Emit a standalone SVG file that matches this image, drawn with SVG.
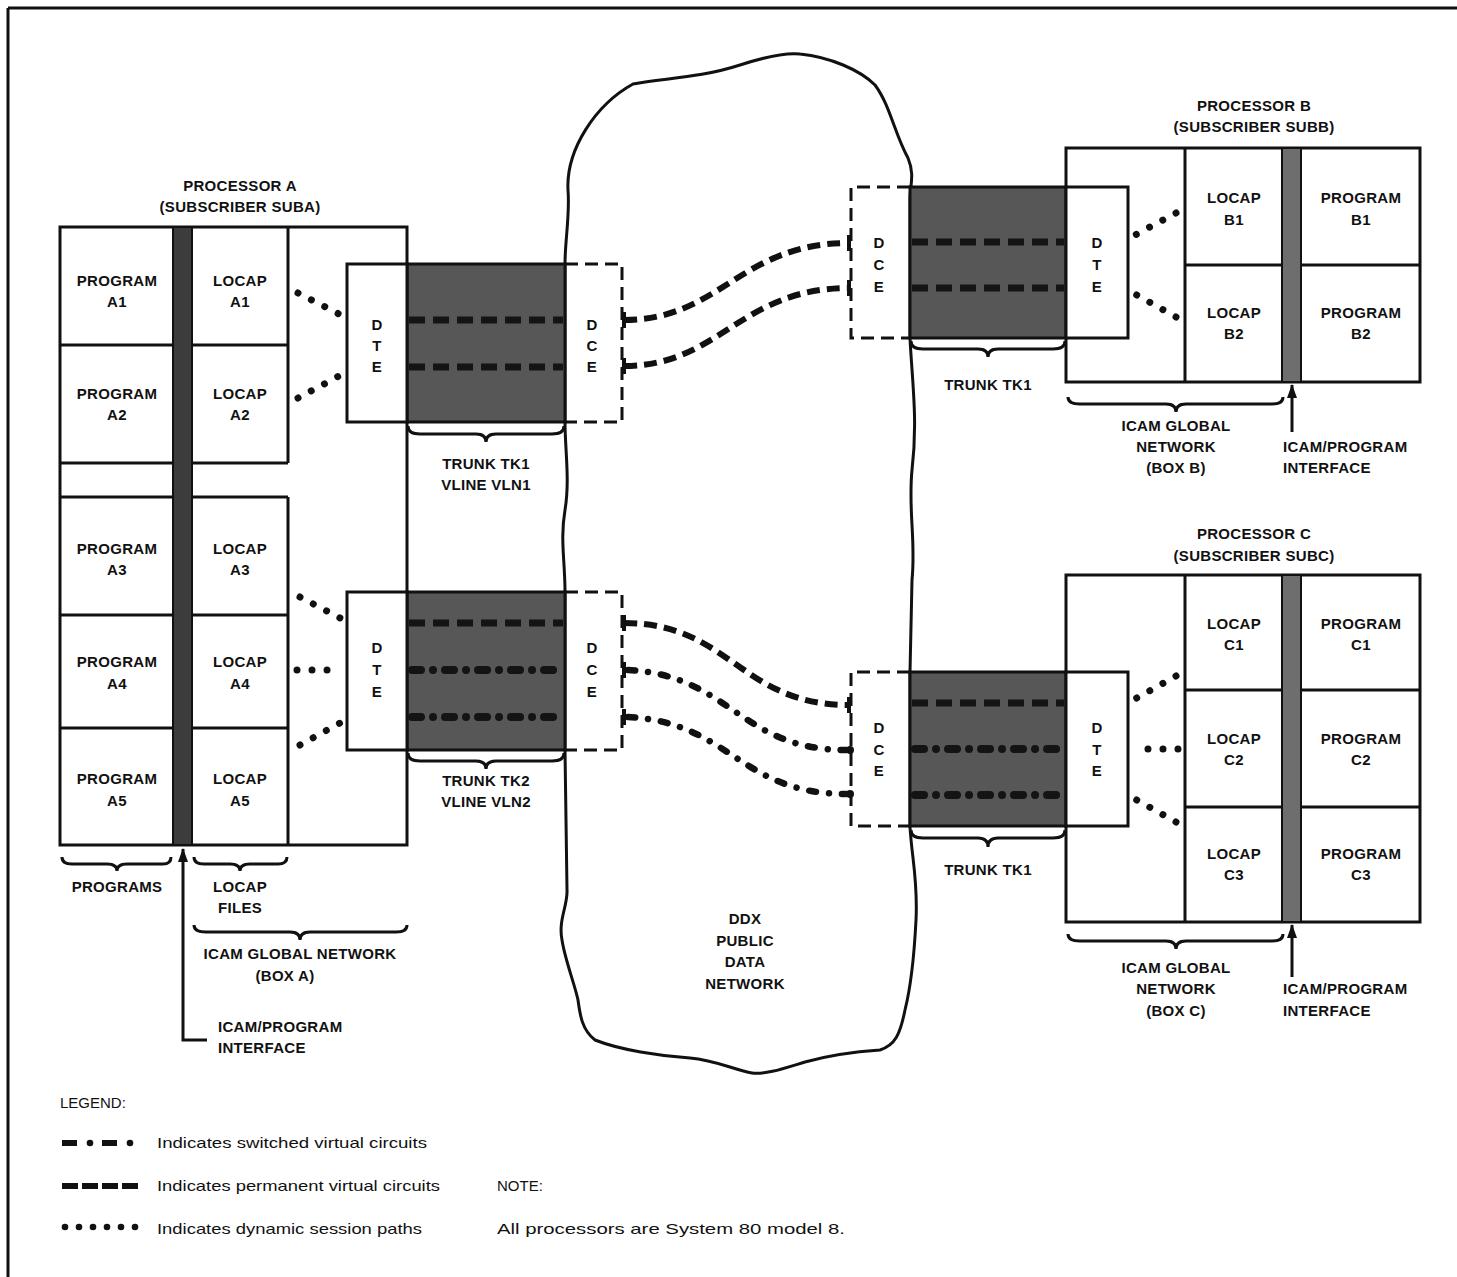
<svg xmlns="http://www.w3.org/2000/svg" width="1457" height="1277" viewBox="0 0 1457 1277">
<style>
.t{font-family:"Liberation Sans",Arial,sans-serif;font-size:15px;font-weight:bold;text-anchor:middle;fill:#111;letter-spacing:0.3px}
.st{text-anchor:start}
.l{font-family:"Liberation Sans",Arial,sans-serif;font-size:15px;fill:#111}
.box{fill:#fff;stroke:#111;stroke-width:3}
.ln{stroke:#111;stroke-width:3;fill:none}
.dce{fill:none;stroke:#111;stroke-width:3;stroke-dasharray:13 7}
.trunk{fill:#575757;stroke:#111;stroke-width:3}
.barA{fill:#3c3c3c;stroke:#111;stroke-width:2}
.barB{fill:#6e6e6e;stroke:#111;stroke-width:2}
.brace{fill:none;stroke:#111;stroke-width:3}
.pvc{fill:none;stroke:#111;stroke-width:6;stroke-dasharray:13 7}
.svc{fill:none;stroke:#111;stroke-width:6.5;stroke-linecap:round;stroke-dasharray:7 13 0.01 13}
.dsp{fill:none;stroke:#111;stroke-width:7;stroke-linecap:round;stroke-dasharray:0.01 15}
.tp{fill:none;stroke:#141414;stroke-width:7;stroke-dasharray:16 8}
.ts{fill:none;stroke:#141414;stroke-width:8;stroke-linecap:round;stroke-dasharray:9 12 0.01 12}
.tick{stroke:#111;stroke-width:4}
</style>
<defs>
<marker id="ah" viewBox="0 0 14 10" refX="13" refY="5" markerWidth="14" markerHeight="10" markerUnits="userSpaceOnUse" orient="auto">
<path d="M0 0 L14 5 L0 10 Z" fill="#111"/>
</marker>
</defs>

<g id="frame">
<line x1="8" y1="8" x2="1457" y2="8" class="ln" stroke-width="2"/>
<line x1="8" y1="8" x2="8" y2="1277" class="ln" stroke-width="2"/>
</g>

<g id="ddx-network">
<path class="ln" d="M568 190 C566 150,595 105,633 84 C665 78,700 78,740 65 C765 57,785 52,800 54 C830 57,860 70,875 85 C890 105,895 135,908 158 C915 175,910 185,910 200 L910 338 C912 380,918 420,912 470 C908 510,916 540,912 580 L910 672 L910 827 C912 860,918 880,916 920 C914 960,910 990,905 1010 C900 1035,895 1045,880 1050 C850 1052,830 1055,805 1062 C785 1068,765 1075,752 1073 C735 1070,715 1060,690 1058 C660 1056,620 1050,595 1040 C582 1030,580 1015,578 1000 C575 985,565 960,562 940 C558 920,568 905,567 890 L565 750 L565 592 C565 560,560 540,565 510 C570 480,565 450,565 422 L565 264 C565 240,570 215,568 190 Z"/>
<text class="t" x="745" y="924">DDX</text>
<text class="t" x="745" y="946">PUBLIC</text>
<text class="t" x="745" y="967">DATA</text>
<text class="t" x="745" y="989">NETWORK</text>
</g>

<g id="processor-a">
<text class="t" x="240" y="191">PROCESSOR A</text>
<text class="t" x="240" y="212">(SUBSCRIBER SUBA)</text>
<rect class="box" x="60" y="227" width="347" height="618"/>
<line class="ln" x1="60" y1="345" x2="288" y2="345"/>
<line class="ln" x1="60" y1="463" x2="288" y2="463"/>
<line class="ln" x1="60" y1="497" x2="288" y2="497"/>
<line class="ln" x1="60" y1="615" x2="288" y2="615"/>
<line class="ln" x1="60" y1="728" x2="288" y2="728"/>
<line class="ln" x1="288" y1="227" x2="288" y2="463"/>
<line class="ln" x1="288" y1="497" x2="288" y2="845"/>
<rect class="barA" x="173" y="227" width="19" height="618"/>
<text class="t" x="117" y="286">PROGRAM</text><text class="t" x="117" y="307">A1</text>
<text class="t" x="117" y="399">PROGRAM</text><text class="t" x="117" y="420">A2</text>
<text class="t" x="117" y="554">PROGRAM</text><text class="t" x="117" y="575">A3</text>
<text class="t" x="117" y="667">PROGRAM</text><text class="t" x="117" y="689">A4</text>
<text class="t" x="117" y="784">PROGRAM</text><text class="t" x="117" y="806">A5</text>
<text class="t" x="240" y="286">LOCAP</text><text class="t" x="240" y="307">A1</text>
<text class="t" x="240" y="399">LOCAP</text><text class="t" x="240" y="420">A2</text>
<text class="t" x="240" y="554">LOCAP</text><text class="t" x="240" y="575">A3</text>
<text class="t" x="240" y="667">LOCAP</text><text class="t" x="240" y="689">A4</text>
<text class="t" x="240" y="784">LOCAP</text><text class="t" x="240" y="806">A5</text>
<path class="brace" d="M62 857 Q62 864 72 864 L107 864 Q117 864 117 871 Q117 864 127 864 L163 864 Q171 864 171 857"/>
<path class="brace" d="M194 857 Q194 864 204 864 L230 864 Q240 864 240 871 Q240 864 250 864 L278 864 Q287 864 287 857"/>
<text class="t" x="117" y="892">PROGRAMS</text>
<text class="t" x="240" y="892">LOCAP</text>
<text class="t" x="240" y="913">FILES</text>
<path class="brace" d="M194 925 Q194 932 206 932 L290 932 Q300 932 300 940 Q300 932 310 932 L396 932 Q407 932 407 925"/>
<text class="t" x="300" y="959">ICAM GLOBAL NETWORK</text>
<text class="t" x="285" y="981">(BOX A)</text>
<path class="ln" d="M207 1040 L183 1040 L183 849" marker-end="url(#ah)"/>
<text class="t st" x="218" y="1032">ICAM/PROGRAM</text>
<text class="t st" x="218" y="1053">INTERFACE</text>
</g>

<g id="trunk-a1">
<rect class="trunk" x="407" y="264" width="158" height="158"/>
<rect class="box" x="347" y="264" width="60" height="158"/>
<path class="dce" d="M565 264 L622 264 L622 422 L565 422"/>
<text class="t" x="377" y="330">D</text><text class="t" x="377" y="351">T</text><text class="t" x="377" y="372">E</text>
<text class="t" x="592" y="330">D</text><text class="t" x="592" y="351">C</text><text class="t" x="592" y="372">E</text>
<path class="brace" d="M408 426 Q408 434 420 434 L476 434 Q486 434 486 442 Q486 434 496 434 L552 434 Q564 434 564 426"/>
<text class="t" x="486" y="469">TRUNK TK1</text>
<text class="t" x="486" y="490">VLINE VLN1</text>
</g>

<g id="trunk-a2">
<rect class="trunk" x="407" y="592" width="158" height="158"/>
<rect class="box" x="347" y="592" width="60" height="158"/>
<path class="dce" d="M565 592 L622 592 L622 750 L565 750"/>
<text class="t" x="377" y="653">D</text><text class="t" x="377" y="675">T</text><text class="t" x="377" y="697">E</text>
<text class="t" x="592" y="653">D</text><text class="t" x="592" y="675">C</text><text class="t" x="592" y="697">E</text>
<path class="brace" d="M408 753 Q408 761 420 761 L476 761 Q486 761 486 769 Q486 761 496 761 L552 761 Q564 761 564 753"/>
<text class="t" x="486" y="786">TRUNK TK2</text>
<text class="t" x="486" y="807">VLINE VLN2</text>
</g>

<g id="processor-b">
<text class="t" x="1254" y="111">PROCESSOR B</text>
<text class="t" x="1254" y="132">(SUBSCRIBER SUBB)</text>
<rect class="box" x="1066" y="148" width="354" height="234"/>
<line class="ln" x1="1185" y1="148" x2="1185" y2="382"/>
<line class="ln" x1="1185" y1="265" x2="1420" y2="265"/>
<rect class="barB" x="1282" y="148" width="19" height="234"/>
<text class="t" x="1234" y="203">LOCAP</text><text class="t" x="1234" y="225">B1</text>
<text class="t" x="1234" y="318">LOCAP</text><text class="t" x="1234" y="339">B2</text>
<text class="t" x="1361" y="203">PROGRAM</text><text class="t" x="1361" y="225">B1</text>
<text class="t" x="1361" y="318">PROGRAM</text><text class="t" x="1361" y="339">B2</text>
<path class="brace" d="M1068 397 Q1068 404 1080 404 L1166 404 Q1176 404 1176 412 Q1176 404 1186 404 L1272 404 Q1283 404 1283 397"/>
<text class="t" x="1176" y="431">ICAM GLOBAL</text>
<text class="t" x="1176" y="452">NETWORK</text>
<text class="t" x="1176" y="473">(BOX B)</text>
<line class="ln" x1="1292" y1="432" x2="1292" y2="385" marker-end="url(#ah)"/>
<text class="t st" x="1283" y="452">ICAM/PROGRAM</text>
<text class="t st" x="1283" y="473">INTERFACE</text>
</g>

<g id="trunk-b">
<rect class="trunk" x="910" y="187" width="156" height="151"/>
<rect class="box" x="1066" y="187" width="62" height="151"/>
<path class="dce" d="M910 187 L851 187 L851 338 L910 338"/>
<text class="t" x="879" y="248">D</text><text class="t" x="879" y="270">C</text><text class="t" x="879" y="292">E</text>
<text class="t" x="1097" y="248">D</text><text class="t" x="1097" y="270">T</text><text class="t" x="1097" y="292">E</text>
<path class="brace" d="M911 341 Q911 349 923 349 L978 349 Q988 349 988 357 Q988 349 998 349 L1053 349 Q1065 349 1065 341"/>
<text class="t" x="988" y="390">TRUNK TK1</text>
</g>

<g id="processor-c">
<text class="t" x="1254" y="539">PROCESSOR C</text>
<text class="t" x="1254" y="561">(SUBSCRIBER SUBC)</text>
<rect class="box" x="1066" y="575" width="354" height="347"/>
<line class="ln" x1="1185" y1="575" x2="1185" y2="922"/>
<line class="ln" x1="1185" y1="690" x2="1420" y2="690"/>
<line class="ln" x1="1185" y1="807" x2="1420" y2="807"/>
<rect class="barB" x="1282" y="575" width="19" height="347"/>
<text class="t" x="1234" y="629">LOCAP</text><text class="t" x="1234" y="650">C1</text>
<text class="t" x="1234" y="744">LOCAP</text><text class="t" x="1234" y="765">C2</text>
<text class="t" x="1234" y="859">LOCAP</text><text class="t" x="1234" y="880">C3</text>
<text class="t" x="1361" y="629">PROGRAM</text><text class="t" x="1361" y="650">C1</text>
<text class="t" x="1361" y="744">PROGRAM</text><text class="t" x="1361" y="765">C2</text>
<text class="t" x="1361" y="859">PROGRAM</text><text class="t" x="1361" y="880">C3</text>
<path class="brace" d="M1068 934 Q1068 941 1080 941 L1166 941 Q1176 941 1176 949 Q1176 941 1186 941 L1272 941 Q1283 941 1283 934"/>
<text class="t" x="1176" y="973">ICAM GLOBAL</text>
<text class="t" x="1176" y="994">NETWORK</text>
<text class="t" x="1176" y="1016">(BOX C)</text>
<line class="ln" x1="1292" y1="977" x2="1292" y2="925" marker-end="url(#ah)"/>
<text class="t st" x="1283" y="994">ICAM/PROGRAM</text>
<text class="t st" x="1283" y="1016">INTERFACE</text>
</g>

<g id="trunk-c">
<rect class="trunk" x="910" y="672" width="156" height="154"/>
<rect class="box" x="1066" y="672" width="62" height="154"/>
<path class="dce" d="M910 672 L851 672 L851 826 L910 826"/>
<text class="t" x="879" y="733">D</text><text class="t" x="879" y="755">C</text><text class="t" x="879" y="776">E</text>
<text class="t" x="1097" y="733">D</text><text class="t" x="1097" y="755">T</text><text class="t" x="1097" y="776">E</text>
<path class="brace" d="M911 830 Q911 838 923 838 L978 838 Q988 838 988 847 Q988 838 998 838 L1053 838 Q1065 838 1065 830"/>
<text class="t" x="988" y="875">TRUNK TK1</text>
</g>

<g id="connectors">
<path class="dsp" d="M298 293 L339 314"/>
<path class="dsp" d="M298 398 L339 376"/>
<path class="dsp" d="M300 597 L340 618"/>
<path class="dsp" d="M297 670 L342 670"/>
<path class="dsp" d="M300 745 L340 723"/>
<path class="dsp" d="M1176 213 L1135 235"/>
<path class="dsp" d="M1176 317 L1135 294"/>
<path class="dsp" d="M1176 676 L1135 699"/>
<path class="dsp" d="M1178 749 L1133 749"/>
<path class="dsp" d="M1176 822 L1135 799"/>
<line class="tp" x1="409" y1="320" x2="563" y2="320"/>
<line class="tp" x1="409" y1="367" x2="563" y2="367"/>
<line class="tp" x1="409" y1="623" x2="563" y2="623"/>
<line class="ts" x1="412" y1="670" x2="560" y2="670"/>
<line class="ts" x1="412" y1="717" x2="560" y2="717"/>
<line class="tp" x1="912" y1="242" x2="1064" y2="242"/>
<line class="tp" x1="912" y1="288" x2="1064" y2="288"/>
<line class="tp" x1="912" y1="703" x2="1064" y2="703"/>
<line class="ts" x1="915" y1="749" x2="1062" y2="749"/>
<line class="ts" x1="915" y1="795" x2="1062" y2="795"/>
<path class="pvc" d="M624 320 C720 320,740 243,849 243"/>
<path class="pvc" d="M624 366 C720 366,740 288,849 288"/>
<path class="pvc" d="M624 623 C730 623,740 705,849 705"/>
<path class="svc" d="M628 670 C730 675,740 750,846 750"/>
<path class="svc" d="M628 717 C730 722,740 794,846 794"/>
<line class="tick" x1="624" y1="312" x2="624" y2="328"/>
<line class="tick" x1="624" y1="358" x2="624" y2="374"/>
<line class="tick" x1="624" y1="615" x2="624" y2="631"/>
<line class="tick" x1="624" y1="662" x2="624" y2="678"/>
<line class="tick" x1="624" y1="709" x2="624" y2="725"/>
<line class="tick" x1="849" y1="235" x2="849" y2="251"/>
<line class="tick" x1="849" y1="280" x2="849" y2="296"/>
<line class="tick" x1="849" y1="697" x2="849" y2="713"/>
<circle cx="850" cy="750" r="4" fill="#111"/>
<circle cx="850" cy="794" r="4" fill="#111"/>
</g>

<g id="legend">
<text class="l" x="60" y="1108">LEGEND:</text>
<rect x="62" y="1140" width="15" height="6" fill="#111"/>
<circle cx="90" cy="1143" r="3.3" fill="#111"/>
<rect x="102" y="1140" width="15" height="6" fill="#111"/>
<circle cx="130" cy="1143" r="3.3" fill="#111"/>
<text class="l" x="157" y="1148" textLength="270" lengthAdjust="spacingAndGlyphs">Indicates switched virtual circuits</text>
<rect x="62" y="1183" width="16" height="6" fill="#111"/>
<rect x="82" y="1183" width="16" height="6" fill="#111"/>
<rect x="102" y="1183" width="16" height="6" fill="#111"/>
<rect x="122" y="1183" width="16" height="6" fill="#111"/>
<text class="l" x="157" y="1191" textLength="283" lengthAdjust="spacingAndGlyphs">Indicates permanent virtual circuits</text>
<circle cx="65" cy="1227" r="3.3" fill="#111"/>
<circle cx="79" cy="1227" r="3.3" fill="#111"/>
<circle cx="93" cy="1227" r="3.3" fill="#111"/>
<circle cx="107" cy="1227" r="3.3" fill="#111"/>
<circle cx="121" cy="1227" r="3.3" fill="#111"/>
<circle cx="135" cy="1227" r="3.3" fill="#111"/>
<text class="l" x="157" y="1234" textLength="265" lengthAdjust="spacingAndGlyphs">Indicates dynamic session paths</text>
<text class="l" x="497" y="1191">NOTE:</text>
<text class="l" x="497" y="1234" textLength="348" lengthAdjust="spacingAndGlyphs">All processors are System 80 model 8.</text>
</g>
</svg>
